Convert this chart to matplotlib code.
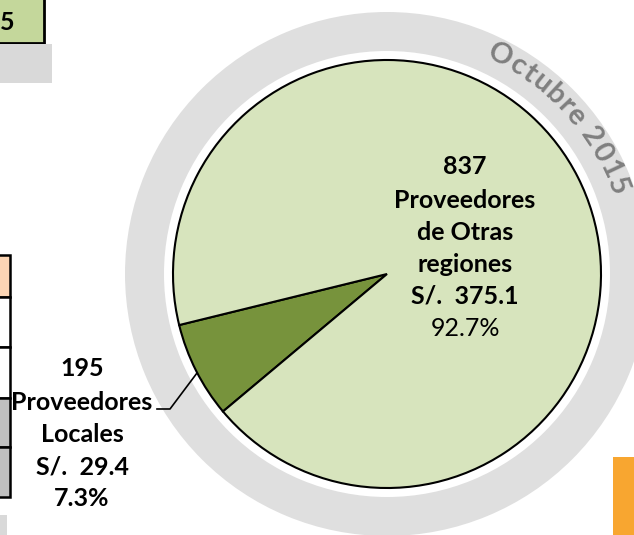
import numpy as np
import matplotlib.pyplot as plt
from matplotlib.patches import Wedge, Rectangle
from matplotlib.font_manager import FontProperties
from matplotlib.textpath import text_to_path

# datos: proveedores por origen, Octubre 2015
n_prov = [195, 837]            # numero de proveedores
montos = [29.4, 375.1]         # S/. millones
pcts = [7.3, 92.7]
lineas_loc = ['Proveedores', 'Locales']
lineas_otr = ['Proveedores', 'de Otras', 'regiones']
periodo = 'Octubre 2015'

W, H = 634, 535
fig = plt.figure(figsize=(W / 100, H / 100), dpi=100)
ax = fig.add_axes([0, 0, 1, 1])

cx, cy = 387, H - 274

# anillo gris de fondo
ax.add_patch(Wedge((cx, cy), 262, 0, 360, width=39, facecolor='#dfdfdf', lw=0))

ax.pie(montos, colors=['#77933c', '#d7e4bd'], startangle=193.8,
       center=(cx, cy), radius=214,
       wedgeprops=dict(edgecolor='black', linewidth=1.5))

# texto curvo sobre el anillo (espaciado segun ancho de cada letra)
fp = FontProperties(family='Lato', weight='bold', size=21)
pref = [text_to_path.get_text_width_height_descent(periodo[:i], fp, ismath=False)[0]
        for i in range(len(periodo) + 1)]
mid = np.array([(pref[i] + pref[i + 1]) / 2 for i in range(len(periodo))])
a_ini, a_fin = 62.7, 20.9
angs = a_ini + (mid - mid[0]) / (mid[-1] - mid[0]) * (a_fin - a_ini)
r_txt = 246
for ch, a in zip(periodo, angs):
    t = np.deg2rad(a)
    ax.text(cx + r_txt * np.cos(t), cy + r_txt * np.sin(t), ch,
            rotation=a - 90, rotation_mode='anchor', ha='center', va='center',
            fontproperties=fp, color='#7f7f7f')

# etiquetas
kw = dict(ha='center', va='center', fontsize=18, fontweight='bold', family='Lato')
otr = [str(n_prov[1])] + lineas_otr + [f'S/.  {montos[1]}']
for s, y in zip(otr, [167, 200, 233, 265, 296]):
    ax.text(465, H - y, s, **kw)
ax.text(465, H - 328, f'{pcts[1]}%', ha='center', va='center', fontsize=18, family='Lato')

loc = [str(n_prov[0])] + lineas_loc + [f'S/.  {montos[0]}', f'{pcts[0]}%']
for s, y in zip(loc, [368, 402, 434, 467, 498]):
    ax.text(82, H - y, s, **kw)
ax.plot([157, 170, 197], [H - 409, H - 409, H - 373], color='black', lw=1.2)

# restos de la tabla a la izquierda
ax.add_patch(Rectangle((-5, H - 43), 49, 48, facecolor='#c4d79b', edgecolor='black', lw=2))
ax.text(7, H - 22, '5', ha='center', va='center', fontsize=18, fontweight='bold', family='Lato')
ax.add_patch(Rectangle((0, H - 83), 52, 39, facecolor='#d9d9d9', lw=0))
filas = [(255, 297, '#fcd5b4'), (297, 347, 'white'), (347, 398, 'white'),
         (398, 447, '#bfbfbf'), (447, 497, '#bfbfbf')]
for y0, y1, c in filas:
    ax.add_patch(Rectangle((-5, H - y1), 15, y1 - y0, facecolor=c, edgecolor='black', lw=1.8))
ax.add_patch(Rectangle((0, 0), 7, 20, facecolor='#d9d9d9', lw=0))

# barra naranja
ax.add_patch(Rectangle((613, 0), 30, H - 457, facecolor='#f8a630', lw=0))

ax.set_xlim(0, W)
ax.set_ylim(0, H)
ax.axis('off')
fig.savefig('out.png', dpi=100)
